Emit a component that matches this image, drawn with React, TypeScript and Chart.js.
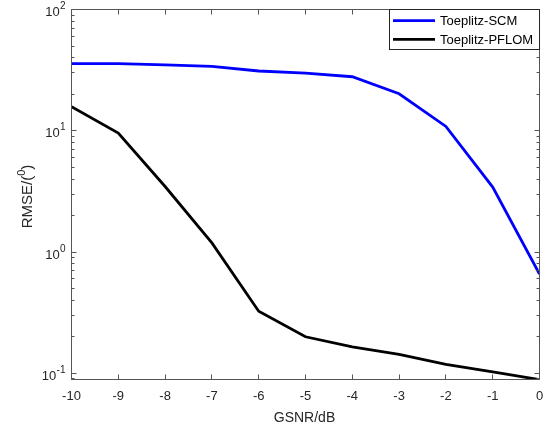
import React, { useEffect, useRef } from "react";
import { Chart, registerables } from "chart.js";

Chart.register(...registerables);

// ---- data ----
const gsnr = [-10, -9, -8, -7, -6, -5, -4, -3, -2, -1, 0];
const toeplitzSCM = [35.8, 35.8, 34.9, 34.0, 31.1, 29.9, 27.9, 20.2, 10.85, 3.43, 0.658];
const toeplitzPFLOM = [15.8, 9.57, 3.47, 1.19, 0.325, 0.2, 0.165, 0.1435, 0.1186, 0.1026, 0.0887];
const seriesNames = ["Toeplitz-SCM", "Toeplitz-PFLOM"];
const seriesColors = ["#0000ff", "#000000"];
const xTickValues = [-10, -9, -8, -7, -6, -5, -4, -3, -2, -1, 0];
const yTickExponents = [-1, 0, 1, 2];
const xTitle = "GSNR/dB";
const yTitleParts = ["RMSE/(", "0", ")"];
const yMin = 0.0889;
const yMax = 100;

const FONT = '"Liberation Sans", Arial, Helvetica, sans-serif';
const AXIS = "#262626";
const AXIS_LINE = "#555555";

const matlabAxes = {
  id: "matlabAxes",
  afterDatasetsDraw(chart: any) {
    const { ctx, chartArea: a, scales } = chart;
    const xs = scales.x;
    const ys = scales.y;
    const L = a.left, R = a.right, T = a.top, B = a.bottom;
    ctx.save();
    // box
    ctx.strokeStyle = AXIS_LINE;
    ctx.lineWidth = 1;
    ctx.beginPath();
    ctx.rect(L, T, R - L, B - T);
    ctx.stroke();

    // x ticks
    ctx.beginPath();
    for (const v of xTickValues) {
      const px = Math.floor(xs.getPixelForValue(v)) + 0.5;
      ctx.moveTo(px, B);
      ctx.lineTo(px, B - 5);
      ctx.moveTo(px, T);
      ctx.lineTo(px, T + 5);
    }
    // y major ticks
    for (const e of yTickExponents) {
      const py = Math.floor(ys.getPixelForValue(Math.pow(10, e))) + 0.5;
      ctx.moveTo(L, py);
      ctx.lineTo(L + 5, py);
      ctx.moveTo(R, py);
      ctx.lineTo(R - 5, py);
    }
    // y minor ticks
    for (let e = -2; e <= 2; e++) {
      for (let m = 2; m <= 9; m++) {
        const v = m * Math.pow(10, e);
        if (v < yMin || v > yMax) continue;
        const py = Math.floor(ys.getPixelForValue(v)) + 0.5;
        ctx.moveTo(L, py);
        ctx.lineTo(L + 3, py);
        ctx.moveTo(R, py);
        ctx.lineTo(R - 3, py);
      }
    }
    ctx.stroke();

    // x tick labels
    ctx.fillStyle = AXIS;
    ctx.font = `13px ${FONT}`;
    ctx.textAlign = "center";
    ctx.textBaseline = "alphabetic";
    for (const v of xTickValues) {
      const px = xs.getPixelForValue(v);
      ctx.fillText(String(v), px, B + 20);
    }

    // y tick labels 10^e
    const rightEdge = L - 6;
    for (const e of yTickExponents) {
      const py = ys.getPixelForValue(Math.pow(10, e));
      ctx.font = `10px ${FONT}`;
      ctx.textAlign = "right";
      const expStr = String(e);
      const ew = ctx.measureText(expStr).width;
      ctx.fillText(expStr, rightEdge, py - 0.5);
      ctx.font = `13px ${FONT}`;
      ctx.fillText("10", rightEdge - ew - 0.3, py + 6.5);
    }

    // x title
    ctx.font = `14px ${FONT}`;
    ctx.textAlign = "center";
    ctx.fillText(xTitle, (L + R) / 2 - 1, B + 42);

    // y title (rotated)
    ctx.save();
    ctx.translate(31.5, (T + B) / 2 + 2);
    ctx.rotate(-Math.PI / 2);
    ctx.font = `15px ${FONT}`;
    const w0 = ctx.measureText(yTitleParts[0]).width;
    const w2 = ctx.measureText(yTitleParts[2]).width;
    ctx.font = `11px ${FONT}`;
    const w1 = ctx.measureText(yTitleParts[1]).width;
    const total = w0 + w1 + w2;
    let cx = -total / 2;
    ctx.textAlign = "left";
    ctx.font = `15px ${FONT}`;
    ctx.fillText(yTitleParts[0], cx, 0);
    cx += w0;
    ctx.font = `11px ${FONT}`;
    ctx.fillText(yTitleParts[1], cx, -6.5);
    cx += w1;
    ctx.font = `15px ${FONT}`;
    ctx.fillText(yTitleParts[2], cx, 0);
    ctx.restore();

    // legend
    const lx0 = 389.5, ly0 = T, lx1 = R, ly1 = 49.5;
    ctx.fillStyle = "#ffffff";
    ctx.fillRect(lx0, ly0, lx1 - lx0, ly1 - ly0);
    ctx.strokeStyle = AXIS;
    ctx.lineWidth = 1;
    ctx.strokeRect(lx0, ly0, lx1 - lx0, ly1 - ly0);
    const rows = [20.7, 39.3];
    ctx.font = `13px ${FONT}`;
    ctx.textAlign = "left";
    seriesNames.forEach((name, i) => {
      ctx.strokeStyle = seriesColors[i];
      ctx.lineWidth = 2.8;
      ctx.beginPath();
      ctx.moveTo(393, rows[i]);
      ctx.lineTo(435, rows[i]);
      ctx.stroke();
      ctx.fillStyle = "#000000";
      ctx.fillText(name, 440, rows[i] + 4.5);
    });
    ctx.restore();
  },
};

export default function App() {
  const ref = useRef<HTMLCanvasElement | null>(null);
  useEffect(() => {
    if (!ref.current) return;
    const chart = new Chart(ref.current, {
      type: "line",
      data: {
        labels: gsnr,
        datasets: [
          {
            label: seriesNames[0],
            data: gsnr.map((x, i) => ({ x, y: toeplitzSCM[i] })),
            borderColor: seriesColors[0],
            backgroundColor: seriesColors[0],
            borderWidth: 2.8,
            pointRadius: 0,
            tension: 0,
            fill: false,
          },
          {
            label: seriesNames[1],
            data: gsnr.map((x, i) => ({ x, y: toeplitzPFLOM[i] })),
            borderColor: seriesColors[1],
            backgroundColor: seriesColors[1],
            borderWidth: 2.8,
            pointRadius: 0,
            tension: 0,
            fill: false,
          },
        ],
      },
      options: {
        responsive: false,
        animation: false,
        devicePixelRatio: 1,
        layout: { padding: { left: 71.5, top: 9.5, right: 11.5, bottom: 48.5 } },
        plugins: { legend: { display: false }, tooltip: { enabled: false } },
        scales: {
          x: { type: "linear", min: -10, max: 0, display: false },
          y: { type: "logarithmic", min: yMin, max: yMax, display: false },
        },
      },
      plugins: [matlabAxes],
    } as any);
    return () => chart.destroy();
  }, []);
  return (
    <div style={{ position: "absolute", left: 0, top: 0, width: 551, height: 428, background: "#fff" }}>
      <canvas ref={ref} width={551} height={428} style={{ display: "block" }} />
    </div>
  );
}
